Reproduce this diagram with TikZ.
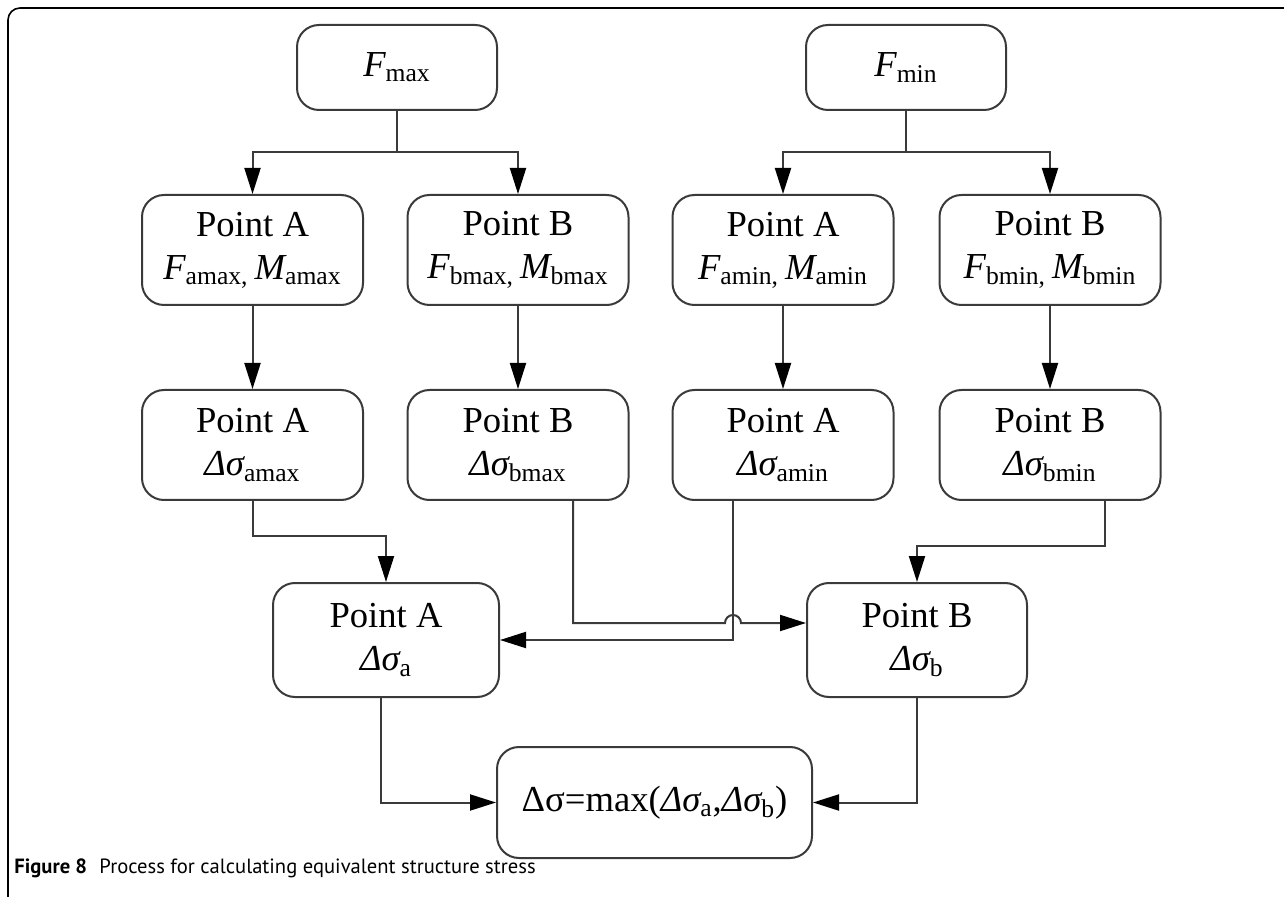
\documentclass[tikz,border=0pt]{standalone}
\usepackage{fontspec}
\setmainfont{Liberation Serif}
\newfontfamily\capfont{PT Sans}
\usetikzlibrary{arrows.meta,positioning}

\definecolor{linegray}{HTML}{3A3A3A}
\newcommand{\ital}[1]{{\itshape #1}}

\begin{document}
\begin{tikzpicture}[
  x=0.5pt,
  y=-0.5pt,
  >={Triangle[length=13pt,width=8pt,color=black]},
  flowbox/.style={
    draw=linegray,
    line width=1pt,
    rounded corners=11pt,
    minimum width=110.5pt,
    minimum height=55pt,
    inner sep=0pt,
    align=center,
    font=\fontsize{18.3}{21.5}\selectfont
  },
  link/.style={
    draw=linegray,
    line width=1pt
  }
]
  \useasboundingbox (0,0) rectangle (1284,897);

  % frame and caption
  \draw[line width=0.8pt,black] (8,897) -- (8,20) arc[start angle=180,end angle=270,radius=12] -- (1284,8);
  \node[anchor=west,inner sep=0pt,font=\capfont\fontsize{10.3}{12}\selectfont] (caption) at (14,868)
    {\textbf{Figure 8}\hspace{0.6em}Process for calculating equivalent structure stress};

  % loads
  \node[flowbox,minimum width=100pt,minimum height=42.5pt] (fmax) at (397,67.5) {\ital{F}\textsubscript{max}};
  \node[flowbox,minimum width=100pt,minimum height=42.5pt] (fmin) at (906,67.5) {\ital{F}\textsubscript{min}};

  % forces and moments
  \node[flowbox] (famax) at (252.5,250) {Point A\\\ital{F}\textsubscript{amax,}\,\ital{M}\textsubscript{amax}};
  \node[flowbox] (fbmax) at (518,250) {Point B\\\ital{F}\textsubscript{bmax,}\,\ital{M}\textsubscript{bmax}};
  \node[flowbox] (famin) at (783,250) {Point A\\\ital{F}\textsubscript{amin,}\,\ital{M}\textsubscript{amin}};
  \node[flowbox] (fbmin) at (1050,250) {Point B\\\ital{F}\textsubscript{bmin,}\,\ital{M}\textsubscript{bmin}};

  % stresses
  \node[flowbox] (samax) at (252.5,445) {Point A\\\ital{Δσ}\textsubscript{amax}};
  \node[flowbox] (sbmax) at (518,445) {Point B\\\ital{Δσ}\textsubscript{bmax}};
  \node[flowbox] (samin) at (783,445) {Point A\\\ital{Δσ}\textsubscript{amin}};
  \node[flowbox] (sbmin) at (1050,445) {Point B\\\ital{Δσ}\textsubscript{bmin}};

  % stress ranges
  \node[flowbox,minimum width=113pt,minimum height=57pt] (sa) at (386,640) {Point A\\\ital{Δσ}\textsubscript{a}};
  \node[flowbox,minimum width=110pt,minimum height=57pt] (sb) at (917,640) {Point B\\\ital{Δσ}\textsubscript{b}};
  \node[flowbox,minimum width=157.5pt,minimum height=55.5pt] (smax) at (654.5,802.5)
    {Δσ=max(\ital{Δσ}\textsubscript{a},\ital{Δσ}\textsubscript{b})};

  % junctions
  \coordinate (jmax) at (397,152);
  \coordinate (jmin) at (906,152);
  \coordinate (hopl) at (725,623);

  \draw[link] (fmax) -- (jmax);
  \draw[link,->] (jmax) -| (famax);
  \draw[link,->] (jmax) -| (fbmax);
  \draw[link] (fmin) -- (jmin);
  \draw[link,->] (jmin) -| (famin);
  \draw[link,->] (jmin) -| (fbmin);

  \foreach \f/\s in {famax/samax,fbmax/sbmax,famin/samin,fbmin/sbmin}
    \draw[link,->] (\f) -- (\s);

  \draw[link,->] (samax.south) -- ++(0,35) -| (sa.north);
  \draw[link,->] ([xshift=27.5pt]sbmax.south) |- (hopl)
    arc[start angle=180,end angle=360,radius=8] -- (hopl -| sb.west);
  \draw[link,->] ([xshift=-25pt]samin.south) |- (sa.east);
  \draw[link,->] ([xshift=27.5pt]sbmin.south) -- ++(0,45) -| (sb.north);

  \draw[link,->] ([xshift=-2.5pt]sa.south) |- (smax.west);
  \draw[link,->] (sb.south) |- (smax.east);
\end{tikzpicture}
\end{document}
